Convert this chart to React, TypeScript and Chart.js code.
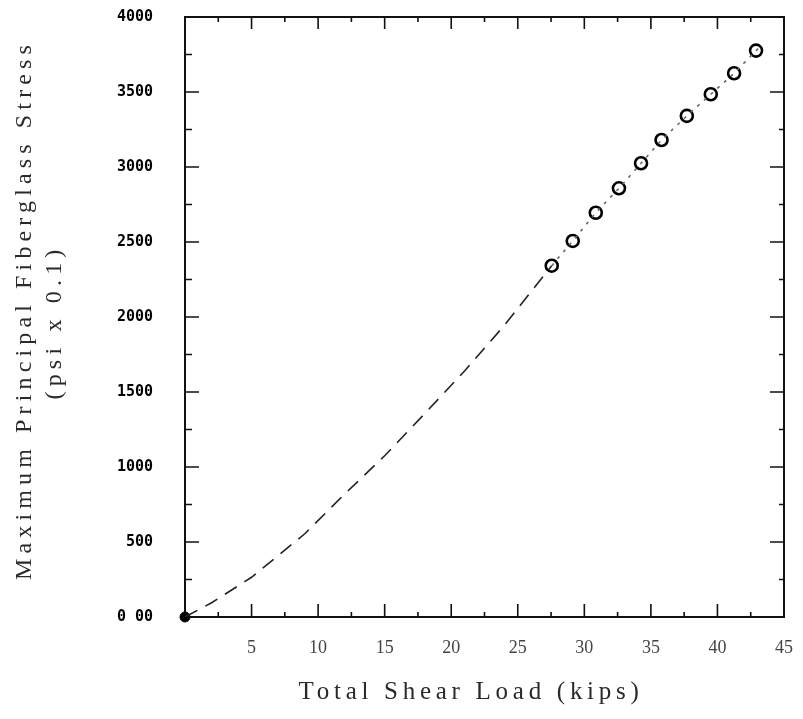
import React, { useEffect, useRef } from 'react';
import { Chart, registerables } from 'chart.js';

Chart.register(...registerables);

// Fitted (dashed) curve: total shear load (kips) vs stress (psi x 0.1)
const curveLoad = [0, 2, 5, 9, 12, 15, 18, 21, 24, 27.55, 29.13, 30.86, 32.6, 34.26, 35.8, 37.7, 39.5, 41.25, 42.9, 43.3];
const curveStress = [0, 95, 265, 555, 820, 1075, 1355, 1640, 1945, 2342, 2507, 2695, 2858, 3025, 3180, 3341, 3485, 3625, 3776, 3810];

// Measured points (open circles)
const testLoad = [27.55, 29.13, 30.86, 32.6, 34.26, 35.8, 37.7, 39.5, 41.25, 42.9];
const testStress = [2342, 2507, 2695, 2858, 3025, 3180, 3341, 3485, 3625, 3776];

// Origin point (filled)
const originLoad = [0];
const originStress = [0];

// Axis ticks
const xTickValues = [0, 5, 10, 15, 20, 25, 30, 35, 40, 45];
const xTickLabels = ['', '5', '10', '15', '20', '25', '30', '35', '40', '45'];
const xMinorTicks = [2.5, 7.5, 12.5, 17.5, 22.5, 27.5, 32.5, 37.5, 42.5];
const yTickValues = [0, 500, 1000, 1500, 2000, 2500, 3000, 3500, 4000];
const yTickLabels = ['0 00', '500', '1000', '1500', '2000', '2500', '3000', '3500', '4000'];
const yMinorTicks = [250, 750, 1250, 1750, 2250, 2750, 3250, 3750];

const xTitle = 'Total Shear Load (kips)';
const yTitleLines = ['Maximum Principal Fiberglass Stress', '(psi x 0.1)'];

const framePlugin = {
  id: 'framePlugin',
  beforeDatasetsDraw(chart: any) {
    const { ctx, chartArea: a, scales } = chart;
    const xs = scales.x;
    const ys = scales.y;
    ctx.save();
    ctx.strokeStyle = '#111';
    ctx.lineWidth = 2;
    ctx.strokeRect(a.left, a.top, a.right - a.left, a.bottom - a.top);
    ctx.lineWidth = 1.6;
    const drawX = (v: number, lenB: number, lenT: number) => {
      const px = xs.getPixelForValue(v);
      ctx.beginPath();
      ctx.moveTo(px, a.bottom);
      ctx.lineTo(px, a.bottom - lenB);
      ctx.moveTo(px, a.top);
      ctx.lineTo(px, a.top + lenT);
      ctx.stroke();
    };
    const drawY = (v: number, lenL: number, lenR: number) => {
      const py = ys.getPixelForValue(v);
      ctx.beginPath();
      ctx.moveTo(a.left, py);
      ctx.lineTo(a.left + lenL, py);
      ctx.moveTo(a.right, py);
      ctx.lineTo(a.right - lenR, py);
      ctx.stroke();
    };
    xTickValues.slice(1, -1).forEach((v) => drawX(v, 13, 12));
    xMinorTicks.forEach((v) => drawX(v, 5, 5));
    yTickValues.slice(1, -1).forEach((v) => drawY(v, 14, 14));
    yMinorTicks.forEach((v) => drawY(v, 7, 5));
    ctx.restore();
  },
};

const titlePlugin = {
  id: 'titlePlugin',
  afterDraw(chart: any) {
    const { ctx, chartArea: a } = chart;
    const spaced = (text: string, target: number) => {
      (ctx as any).letterSpacing = '0px';
      const w = ctx.measureText(text).width;
      const ls = Math.max(0, (target - w) / text.length);
      (ctx as any).letterSpacing = ls + 'px';
    };
    ctx.save();
    ctx.fillStyle = '#2a2a2a';
    ctx.textAlign = 'center';
    ctx.textBaseline = 'middle';
    // x title
    ctx.font = '25px "Liberation Serif"';
    spaced(xTitle, 345);
    ctx.fillText(xTitle, 471, a.bottom + 75);
    // y title
    ctx.font = '24px "Liberation Serif"';
    ctx.save();
    ctx.translate(25, 310);
    ctx.rotate(-Math.PI / 2);
    spaced(yTitleLines[0], 540);
    ctx.fillText(yTitleLines[0], 0, 0);
    ctx.restore();
    ctx.save();
    ctx.translate(55, 322);
    ctx.rotate(-Math.PI / 2);
    spaced(yTitleLines[1], 155);
    ctx.fillText(yTitleLines[1], 0, 0);
    ctx.restore();
    (ctx as any).letterSpacing = '0px';
    ctx.restore();
  },
};

export default function App() {
  const ref = useRef<HTMLCanvasElement>(null);
  useEffect(() => {
    document.body.style.margin = '0';
    const canvas = ref.current;
    if (!canvas) return;
    const chart = new Chart(canvas, {
      type: 'scatter',
      data: {
        datasets: [
          {
            label: 'Fit',
            data: curveLoad.map((x, i) => ({ x, y: curveStress[i] })),
            showLine: true,
            pointRadius: 0,
            borderColor: '#222',
            borderWidth: 1.6,
            borderDash: [14, 9],
            segment: {
              borderDash: (c: any) => (c.p0.parsed.x >= 27.5 ? [3, 6] : [14, 9]),
              borderColor: (c: any) => (c.p0.parsed.x >= 27.5 ? '#666' : '#222'),
            },
          },
          {
            label: 'Test',
            data: testLoad.map((x, i) => ({ x, y: testStress[i] })),
            pointRadius: 6,
            pointStyle: 'circle',
            backgroundColor: '#fff',
            borderColor: '#000',
            borderWidth: 2.6,
          },
          {
            label: 'Origin',
            data: originLoad.map((x, i) => ({ x, y: originStress[i] })),
            pointRadius: 5,
            backgroundColor: '#000',
            borderColor: '#000',
            borderWidth: 1,
            clip: false,
          } as any,
        ],
      },
      options: {
        animation: false,
        responsive: false,
        events: [],
        layout: { padding: { top: 17, right: 19, bottom: 0, left: 0 } },
        plugins: { legend: { display: false }, tooltip: { enabled: false } },
        scales: {
          x: {
            type: 'linear',
            min: 0,
            max: 45,
            grid: { display: false, drawTicks: false },
            border: { display: false },
            afterBuildTicks: (s: any) => {
              s.ticks = xTickValues.map((v) => ({ value: v }));
            },
            afterFit: (s: any) => {
              s.height = 102;
              s.paddingLeft = 0;
              s.paddingRight = 0;
              s.paddingTop = 0;
              s.paddingBottom = 0;
            },
            ticks: {
              padding: 20,
              color: '#444',
              font: { family: '"Liberation Serif"', size: 18 },
              maxRotation: 0,
              autoSkip: false,
              callback: (_v: any, i: number) => xTickLabels[i],
            },
          },
          y: {
            type: 'linear',
            min: 0,
            max: 4000,
            grid: { display: false, drawTicks: false },
            border: { display: false },
            afterBuildTicks: (s: any) => {
              s.ticks = yTickValues.map((v) => ({ value: v }));
            },
            afterFit: (s: any) => {
              s.width = 185;
              s.paddingLeft = 0;
              s.paddingRight = 0;
              s.paddingTop = 0;
              s.paddingBottom = 0;
            },
            ticks: {
              padding: 32,
              color: '#000',
              font: { family: '"DejaVu Sans Mono"', size: 15, weight: 'bold' },
              autoSkip: false,
              callback: (_v: any, i: number) => yTickLabels[i],
            },
          },
        },
      },
      plugins: [framePlugin, titlePlugin],
    });
    return () => chart.destroy();
  }, []);
  return (
    <div style={{ position: 'absolute', left: 0, top: 0, width: 803, height: 719, background: '#fff' }}>
      <canvas ref={ref} width={803} height={719} />
    </div>
  );
}
